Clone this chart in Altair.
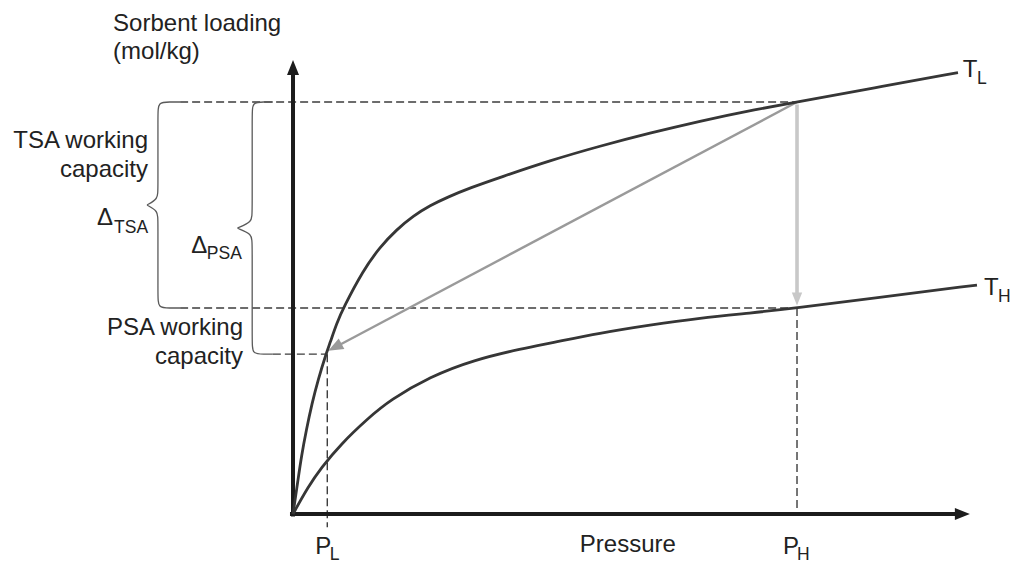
import math
import altair as alt
import pandas as pd

# ---------------- data ----------------
# isotherm at low temperature T_L : pressure (P_H = 10) vs loading (mol/kg)
TL_P = [0, 0.099, 0.165, 0.264, 0.377, 0.496, 0.655, 0.734, 0.867, 0.998, 1.395,
        1.726, 2.058, 2.387, 2.718, 3.075, 3.512, 4.107, 5.099, 6.091, 7.083,
        8.075, 9.067, 10.0, 11.508, 13.194]
TL_Q = [0, 0.413, 0.695, 1.019, 1.343, 1.626, 1.942, 2.075, 2.314, 2.500, 2.961,
        3.240, 3.453, 3.618, 3.744, 3.848, 3.958, 4.085, 4.290, 4.466, 4.624,
        4.769, 4.897, 5.0, 5.170, 5.356]
# isotherm at high temperature T_H
TH_P = [0, 0.298, 0.556, 0.952, 1.488, 1.925, 2.718, 3.577, 4.569, 5.099, 6.091,
        7.083, 8.075, 9.067, 10.0, 11.508, 13.571]
TH_Q = [0, 0.328, 0.558, 0.850, 1.161, 1.383, 1.666, 1.869, 2.011, 2.072, 2.197,
        2.294, 2.379, 2.439, 2.5, 2.621, 2.779]

P_L, P_H = 0.68, 10.0
Q_TOP, Q_MID, Q_LOW = 5.0, 2.5, 1.94

# dashed guide lines: x, x2, y, y2
GUIDE_X = [-2.24, -2.24, -0.40, P_L, P_H]
GUIDE_X2 = [P_H, P_H, P_L, P_L, P_H]
GUIDE_Y = [Q_TOP, Q_MID, Q_LOW, Q_LOW, Q_MID]
GUIDE_Y2 = [Q_TOP, Q_MID, Q_LOW, -0.16, 0.0]

# arrows: start, tip
ARR_X0 = [0.0, -0.06, P_H, P_H]
ARR_Y0 = [-0.03, 0.0, Q_TOP, 4.97]
ARR_X1 = [0.0, 13.43, 0.70, P_H]
ARR_Y1 = [5.51, 0.0, 1.98, 2.53]
ARR_COLOR = ["#1c1c1c", "#1c1c1c", "#9a9a9a", "#c8c8c8"]
ARR_WIDTH = [4, 4, 2.4, 3.6]
ARR_HEAD = [15, 15, 15, 13]

# braces: vertical line x, tip x, hook end x, top, bottom, tip y
BR_XL = [-2.68, -0.81]
BR_XT = [-2.90, -1.11]
BR_XE = [-2.24, -0.40]
BR_TOP = [Q_TOP, Q_TOP]
BR_BOT = [Q_MID, Q_LOW]
BR_MID = [3.75, 3.47]

# text labels
LBL_TEXT = ["Sorbent loading", "(mol/kg)", "Δ", "TSA", "Δ", "PSA", "P", "L",
            "Pressure", "P", "H", "T", "L", "T", "H",
            "TSA working", "capacity", "PSA working", "capacity"]
LBL_X = [-3.57, -3.57, -3.89, -3.55, -2.02, -1.71, 0.44, 0.73,
         5.69, 9.72, 10.0, 13.29, 13.57, 13.71, 13.99,
         -2.877, -2.877, -0.992, -0.992]
LBL_Y = [5.862, 5.522, 3.507, 3.41, 3.167, 3.095, -0.485, -0.558,
         -0.461, -0.485, -0.558, 5.303, 5.218, 2.658, 2.573,
         4.442, 4.09, 2.172, 1.82]
LBL_SIZE = [24, 24, 24, 17.5, 24, 17.5, 24, 17.5,
            24, 24, 17.5, 24, 17.5, 24, 17.5,
            24, 24, 24, 24]
LBL_ALIGN = ["left"] * 15 + ["right"] * 4

# ---------------- layout ----------------
W, H = 1002, 557
XD = [-5.655, 14.226]
YD = [-0.619, 6.141]
sx = W / (XD[1] - XD[0])
sy = H / (YD[1] - YD[0])
xs = alt.Scale(domain=XD, nice=False, zero=False)
ys = alt.Scale(domain=YD, nice=False, zero=False)
FONT = "Liberation Sans"
ARROW_SHAPE = "M0,0L-0.8,2L0.8,2Z"


def X(f):
    return alt.X(f, type="quantitative", scale=xs, axis=None)


def Y(f):
    return alt.Y(f, type="quantitative", scale=ys, axis=None)


# curves
curves = pd.DataFrame(
    {"p": TL_P + TH_P, "q": TL_Q + TH_Q,
     "s": ["TL"] * len(TL_P) + ["TH"] * len(TH_P)}
)
curve_layer = alt.Chart(curves).mark_line(
    color="#363636", strokeWidth=2.8, interpolate="basis"
).encode(x=X("p"), y=Y("q"), detail="s:N")

# guides
guides = pd.DataFrame({"x": GUIDE_X, "x2": GUIDE_X2, "y": GUIDE_Y, "y2": GUIDE_Y2})
guide_layer = alt.Chart(guides).mark_rule(
    color="#3c3c3c", strokeWidth=1.4, strokeDash=[8, 4]
).encode(x=X("x"), x2="x2", y=Y("y"), y2="y2")

# arrows
shafts, heads = [], []
for x0, y0, x1, y1, c, w, hl in zip(ARR_X0, ARR_Y0, ARR_X1, ARR_Y1,
                                    ARR_COLOR, ARR_WIDTH, ARR_HEAD):
    dxp = (x1 - x0) * sx
    dyp = (y1 - y0) * sy
    n = math.hypot(dxp, dyp)
    back = hl * 0.8
    ex = x1 - dxp / n * back / sx
    ey = y1 - dyp / n * back / sy
    ang = math.degrees(math.atan2(dxp, dyp)) % 360
    shafts.append({"x": x0, "y": y0, "x2": ex, "y2": ey, "c": c, "w": w})
    heads.append({"x": x1, "y": y1, "c": c, "a": ang, "size": hl * hl})
shaft_layer = alt.Chart(pd.DataFrame(shafts)).mark_rule(strokeCap="butt").encode(
    x=X("x"), x2="x2", y=Y("y"), y2="y2",
    color=alt.Color("c:N", scale=None),
    strokeWidth=alt.StrokeWidth("w:Q", scale=None),
)
head_layer = alt.Chart(pd.DataFrame(heads)).mark_point(
    shape=ARROW_SHAPE, filled=True, opacity=1, strokeWidth=0
).encode(
    x=X("x"), y=Y("y"),
    color=alt.Color("c:N", scale=None),
    angle=alt.Angle("a:Q", scale=None),
    size=alt.Size("size:Q", scale=None),
)

# braces
rx = 6 / sx
ry = 6 / sy
brace_rows = []
for b, (xl, xt, xe, yt, yb, ym) in enumerate(zip(BR_XL, BR_XT, BR_XE, BR_TOP, BR_BOT, BR_MID)):
    pts = [(xe, yt), (xl + 2 * rx, yt), (xl, yt), (xl, yt - 2 * ry),
           (xl, ym + 2.5 * ry), (xl, ym + ry), (xt, ym), (xt, ym),
           (xl, ym - ry), (xl, ym - 2.5 * ry),
           (xl, yb + 2 * ry), (xl, yb), (xl + 2 * rx, yb), (xe, yb)]
    for i, (px, py) in enumerate(pts):
        brace_rows.append({"b": b, "i": i, "x": px, "y": py})
brace_layer = alt.Chart(pd.DataFrame(brace_rows)).mark_line(
    color="#5a5a5a", strokeWidth=1.3, interpolate="basis"
).encode(x=X("x"), y=Y("y"), detail="b:N", order="i:Q")

# labels
labels = pd.DataFrame({"t": LBL_TEXT, "x": LBL_X, "y": LBL_Y,
                       "s": LBL_SIZE, "a": LBL_ALIGN})
text_left = alt.Chart(labels[labels.a == "left"]).mark_text(
    align="left", baseline="alphabetic", font=FONT, color="#222222"
).encode(x=X("x"), y=Y("y"), text="t:N", size=alt.Size("s:Q", scale=None))
text_right = alt.Chart(labels[labels.a == "right"]).mark_text(
    align="right", baseline="alphabetic", font=FONT, color="#222222"
).encode(x=X("x"), y=Y("y"), text="t:N", size=alt.Size("s:Q", scale=None))

chart = alt.layer(
    guide_layer, brace_layer, shaft_layer, head_layer, curve_layer,
    text_left, text_right
).properties(
    width=W, height=H, padding=0, autosize="none"
).configure_view(stroke=None)

chart.save("out.html", embed_options={"renderer": "svg", "actions": False})
